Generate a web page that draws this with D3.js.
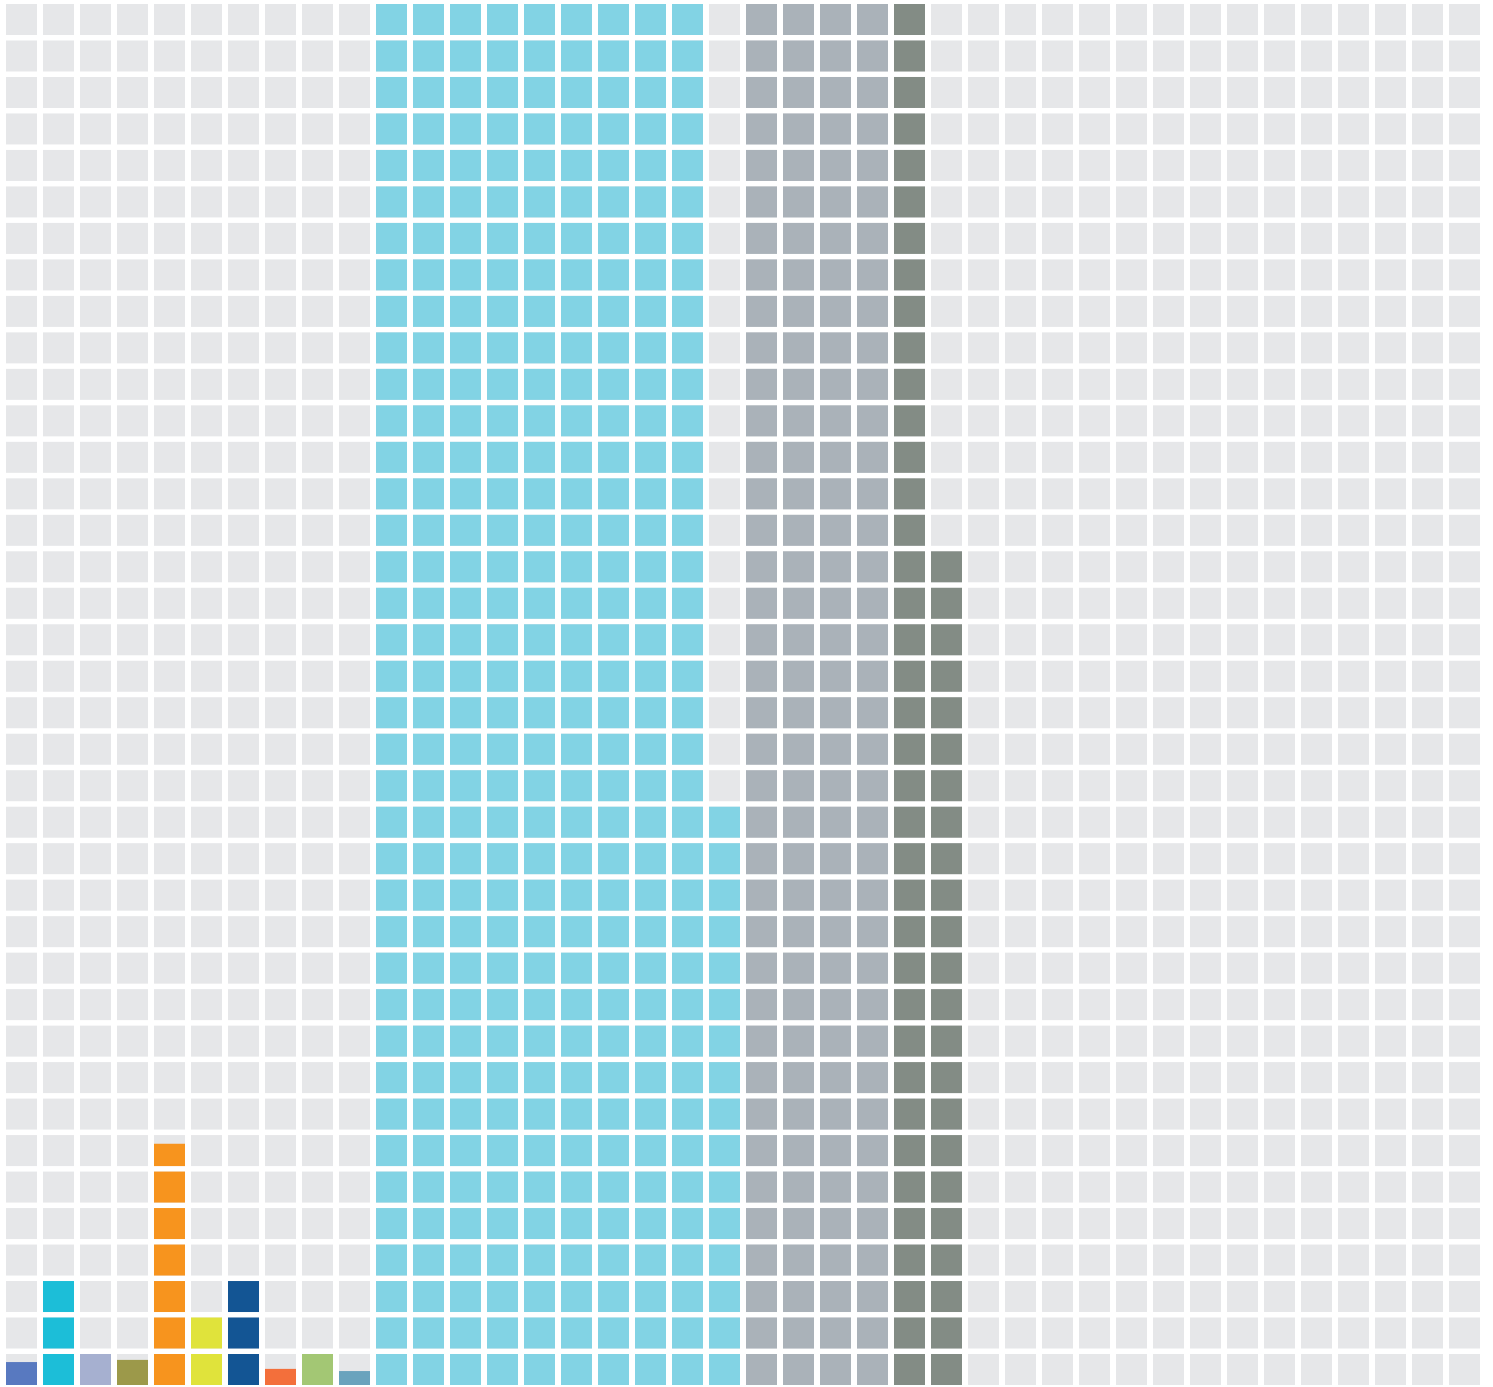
<!DOCTYPE html>
<html lang="en">
<head>
    <meta charset="UTF-8">
    <title>Waffle columns</title>
    <script src="https://d3js.org/d3.v7.min.js"></script>
    <style>
        body { margin: 0; background: #fff; }
        .empty { fill: #e6e7e9; }
    </style>
</head>
<body>
    <svg id="chart" width="1493" height="1387"></svg>
    <script>
        // Number of cells filled in each column (from the bottom), partial cells allowed
        const columnValues = [
            0.74, 3, 1, 0.81, 6.72, 2, 3, 0.52, 1, 0.45,
            38, 38, 38, 38, 38, 38, 38, 38, 38, 16,
            38, 38, 38, 38, 38, 23,
            0, 0, 0, 0, 0, 0, 0, 0, 0, 0, 0, 0, 0, 0
        ];
        // Group each column belongs to
        const columnGroups = [
            "a", "b", "c", "d", "e", "f", "g", "h", "i", "j",
            "k", "k", "k", "k", "k", "k", "k", "k", "k", "k",
            "l", "l", "l", "l", "m", "m",
            "n", "n", "n", "n", "n", "n", "n", "n", "n", "n", "n", "n", "n", "n"
        ];
        const groupKeys = ["a", "b", "c", "d", "e", "f", "g", "h", "i", "j", "k", "l", "m", "n"];
        const rowCount = 38;

        const palette = ["#5879c0", "#1cbed8", "#a6b0d0", "#9c994a", "#f7941e", "#e0e33b",
                         "#135594", "#f36f3b", "#a3c774", "#6aa3bd", "#82d3e4", "#aab2b9",
                         "#838c85", "#e6e7e9"];

        const svg = d3.select("#chart");

        const color = d3.scaleOrdinal().domain(groupKeys).range(palette);

        const x = d3.scaleBand()
            .domain(d3.range(columnValues.length))
            .range([6, 1480])
            .paddingInner(0.162)
            .paddingOuter(0);

        // row 0 is the bottom row
        const y = d3.scaleBand()
            .domain(d3.range(rowCount))
            .range([1385, 4])
            .paddingInner(0.1504)
            .paddingOuter(0);

        const cells = [];
        columnValues.forEach((v, c) => {
            d3.range(rowCount).forEach(r => {
                cells.push({ col: c, row: r, fill: Math.max(0, Math.min(1, v - r)), group: columnGroups[c] });
            });
        });

        const g = svg.append("g");

        g.selectAll(".empty")
            .data(cells)
            .enter().append("rect")
            .attr("class", "empty")
            .attr("x", d => x(d.col))
            .attr("y", d => y(d.row))
            .attr("width", x.bandwidth())
            .attr("height", y.bandwidth());

        g.selectAll(".filled")
            .data(cells.filter(d => d.fill > 0))
            .enter().append("rect")
            .attr("class", "filled")
            .attr("x", d => x(d.col))
            .attr("y", d => y(d.row) + y.bandwidth() * (1 - d.fill))
            .attr("width", x.bandwidth())
            .attr("height", d => y.bandwidth() * d.fill)
            .attr("fill", d => color(d.group));
    </script>
</body>
</html>
